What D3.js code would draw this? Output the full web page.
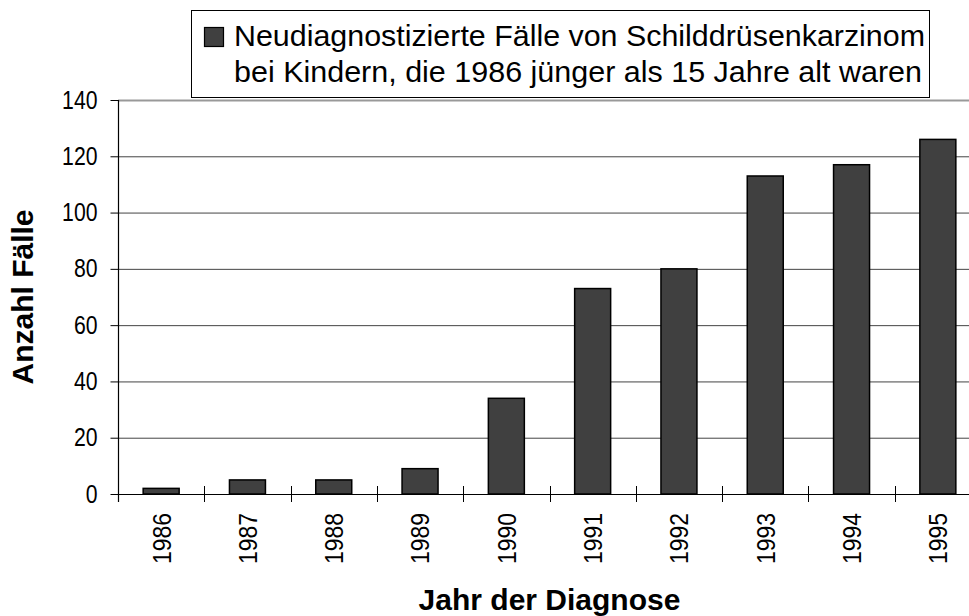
<!DOCTYPE html>
<html>
<head>
<meta charset="utf-8">
<script src="https://cdn.jsdelivr.net/npm/d3@7"></script>
<style>
  body { margin: 0; background: #fff; }
  text { font-family: Arial, "Liberation Sans", Helvetica, sans-serif; fill: #000; }
</style>
</head>
<body>
<div id="chart"></div>
<script>
// Data
const years = ["1986", "1987", "1988", "1989", "1990", "1991", "1992", "1993", "1994", "1995"];
const cases = [2, 5, 5, 9, 34, 73, 80, 113, 117, 126];
const yTicks = [0, 20, 40, 60, 80, 100, 120, 140];
const legendLines = [
    "Neudiagnostizierte Fälle von Schilddrüsenkarzinom",
    "bei Kindern, die 1986 jünger als 15 Jahre alt waren"
];

const FONT = "Arial, 'Liberation Sans', Helvetica, sans-serif";
const W = 969, H = 616;
// plot area (right edge runs slightly past the window, like the original)
const plot = { left: 118, right: 981, top: 100, bottom: 494 };

const svg = d3.select("#chart")
    .append("svg")
    .attr("width", W)
    .attr("height", H)
    .style("font-family", FONT);

const xScale = d3.scaleBand()
    .domain(years)
    .range([plot.left, plot.right])
    .paddingInner(0.583)
    .paddingOuter(0.2915);

const yScale = d3.scaleLinear()
    .domain([0, 140])
    .range([plot.bottom, plot.top]);

// gridlines
svg.append("g")
    .selectAll("line")
    .data(yTicks.filter(d => d > 0 && d < 140))
    .join("line")
    .attr("x1", plot.left)
    .attr("x2", W)
    .attr("y1", d => yScale(d) + 0.5)
    .attr("y2", d => yScale(d) + 0.5)
    .attr("stroke", "#444")
    .attr("stroke-width", 1);

// plot area top border (grey)
svg.append("line")
    .attr("x1", plot.left)
    .attr("x2", W)
    .attr("y1", yScale(140) + 0.5)
    .attr("y2", yScale(140) + 0.5)
    .attr("stroke", "#999")
    .attr("stroke-width", 2);

// bars
svg.append("g")
    .selectAll("rect")
    .data(years)
    .join("rect")
    .attr("x", d => xScale(d))
    .attr("y", (d, i) => yScale(cases[i]))
    .attr("width", xScale.bandwidth())
    .attr("height", (d, i) => yScale(0) - yScale(cases[i]))
    .attr("fill", "#404040")
    .attr("stroke", "#000")
    .attr("stroke-width", 1.5);

// y axis
const yAxis = d3.axisLeft(yScale)
    .tickValues(yTicks)
    .tickSize(8)
    .tickPadding(13)
    .tickSizeOuter(0);

const yG = svg.append("g")
    .attr("transform", `translate(${plot.left + 0.5},0)`)
    .call(yAxis);
yG.select(".domain").remove();
yG.selectAll(".tick line").attr("stroke", "#000");
// labels in the original are slightly condensed
yG.selectAll(".tick text")
    .style("font-family", FONT)
    .style("font-size", "25px")
    .attr("textLength", d => String(d).length * 11.8)
    .attr("lengthAdjust", "spacingAndGlyphs")
    .attr("fill", "#000");
svg.append("line")
    .attr("x1", plot.left + 0.5)
    .attr("x2", plot.left + 0.5)
    .attr("y1", plot.top)
    .attr("y2", plot.bottom + 8)
    .attr("stroke", "#000")
    .attr("stroke-width", 1.2);

// x axis line
svg.append("line")
    .attr("x1", plot.left)
    .attr("x2", W)
    .attr("y1", plot.bottom + 0.5)
    .attr("y2", plot.bottom + 0.5)
    .attr("stroke", "#000")
    .attr("stroke-width", 1.2);

// category tick marks between bands (crossing the axis)
const step = xScale.step();
svg.append("g")
    .selectAll("line")
    .data(d3.range(1, years.length + 1))
    .join("line")
    .attr("x1", i => Math.round(plot.left + i * step) + 0.5)
    .attr("x2", i => Math.round(plot.left + i * step) + 0.5)
    .attr("y1", plot.bottom - 8)
    .attr("y2", plot.bottom + 8)
    .attr("stroke", "#000");

// rotated year labels
svg.append("g")
    .selectAll("text")
    .data(years)
    .join("text")
    .attr("transform", d => `translate(${xScale(d) + xScale.bandwidth() / 2},${plot.bottom + 19}) rotate(-90)`)
    .attr("text-anchor", "end")
    .attr("dy", "0.36em")
    .attr("textLength", 51)
    .attr("lengthAdjust", "spacingAndGlyphs")
    .style("font-size", "26px")
    .text(d => d);

// axis titles
svg.append("text")
    .attr("transform", `translate(33,${(plot.top + plot.bottom) / 2}) rotate(-90)`)
    .attr("text-anchor", "middle")
    .style("font-size", "30px")
    .style("font-weight", "bold")
    .text("Anzahl Fälle");

svg.append("text")
    .attr("x", (plot.left + plot.right) / 2)
    .attr("y", 610)
    .attr("text-anchor", "middle")
    .style("font-size", "30px")
    .style("font-weight", "bold")
    .text("Jahr der Diagnose");

// legend
const legend = svg.append("g");
legend.append("rect")
    .attr("x", 191.5)
    .attr("y", 10.5)
    .attr("width", 738)
    .attr("height", 87)
    .attr("fill", "#fff")
    .attr("stroke", "#000");
legend.append("rect")
    .attr("x", 204.5)
    .attr("y", 27.5)
    .attr("width", 19)
    .attr("height", 19)
    .attr("fill", "#404040")
    .attr("stroke", "#000")
    .attr("stroke-width", 1.2);
legend.selectAll("text.leg")
    .data(legendLines)
    .join("text")
    .attr("class", "leg")
    .attr("x", 234)
    .attr("y", (d, i) => 46 + i * 36)
    .attr("textLength", (d, i) => i === 0 ? 691 : 688)
    .attr("lengthAdjust", "spacingAndGlyphs")
    .style("font-size", "29px")
    .text(d => d);
</script>
</body>
</html>
